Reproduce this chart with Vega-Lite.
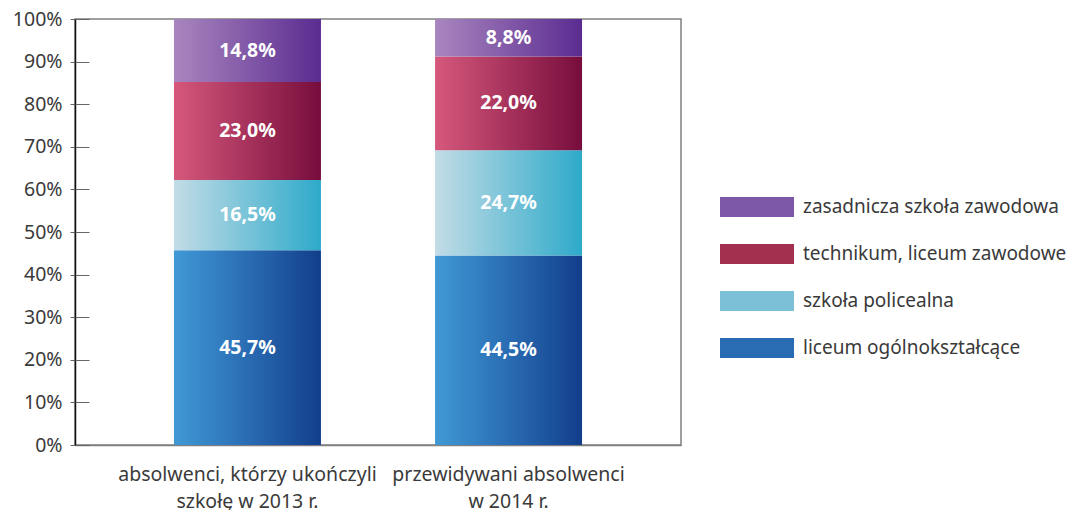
{
  "$schema": "https://vega.github.io/schema/vega-lite/v6.json",
  "width": 606,
  "height": 426,
  "autosize": {"type": "none"},
  "padding": {"left": 75, "top": 19, "right": 385, "bottom": 65},
  "background": "white",
  "config": {
    "locale": {"number": {"decimal": ",", "thousands": " ", "grouping": [3], "currency": ["", " zł"]}},
    "view": {"stroke": "#808080", "strokeWidth": 1.5},
    "font": "Noto Sans"
  },
  "data": {
    "values": [
      {"g": "absolwenci, którzy ukończyli szkołę w 2013 r.", "s": "liceum ogólnokształcące", "o": 1, "v": 0.457},
      {"g": "absolwenci, którzy ukończyli szkołę w 2013 r.", "s": "szkoła policealna", "o": 2, "v": 0.165},
      {"g": "absolwenci, którzy ukończyli szkołę w 2013 r.", "s": "technikum, liceum zawodowe", "o": 3, "v": 0.230},
      {"g": "absolwenci, którzy ukończyli szkołę w 2013 r.", "s": "zasadnicza szkoła zawodowa", "o": 4, "v": 0.148},
      {"g": "przewidywani absolwenci w 2014 r.", "s": "liceum ogólnokształcące", "o": 1, "v": 0.445},
      {"g": "przewidywani absolwenci w 2014 r.", "s": "szkoła policealna", "o": 2, "v": 0.247},
      {"g": "przewidywani absolwenci w 2014 r.", "s": "technikum, liceum zawodowe", "o": 3, "v": 0.220},
      {"g": "przewidywani absolwenci w 2014 r.", "s": "zasadnicza szkoła zawodowa", "o": 4, "v": 0.088}
    ]
  },
  "transform": [
    {"stack": "v", "groupby": ["g"], "sort": [{"field": "o", "order": "ascending"}], "as": ["v0", "v1"]},
    {"calculate": "(datum.v0 + datum.v1) / 2", "as": "mid"}
  ],
  "encoding": {
    "x": {
      "field": "g", "type": "nominal", "sort": null,
      "scale": {"paddingInner": 0.437, "paddingOuter": 0.379},
      "axis": {
        "title": null, "ticks": false, "labelAngle": 0, "labelFontSize": 19.5, "labelColor": "#3a3a3a",
        "labelPadding": 20, "labelLineHeight": 27, "labelLimit": 0, "domainColor": "#808080", "domainWidth": 1.5,
        "labelExpr": "datum.value == 'absolwenci, którzy ukończyli szkołę w 2013 r.' ? ['absolwenci, którzy ukończyli', 'szkołę w 2013 r.'] : ['przewidywani absolwenci', 'w 2014 r.']"
      }
    }
  },
  "layer": [
    {
      "mark": {"type": "bar", "opacity": 0},
      "encoding": {
        "y": {
          "field": "v0", "type": "quantitative", "scale": {"domain": [0, 1]},
          "axis": {
            "orient": "left", "title": null, "grid": false, "format": ".0%",
            "values": [0, 0.1, 0.2, 0.3, 0.4, 0.5, 0.6, 0.7, 0.8, 0.9, 1],
            "tickSize": 5, "tickColor": "#666666", "domainColor": "#111111", "domainWidth": 1.5,
            "labelFontSize": 19.5, "labelColor": "#3a3a3a", "labelPadding": 8
          }
        },
        "y2": {"field": "v1"},
        "color": {
          "field": "s", "type": "nominal",
          "scale": {
            "domain": ["zasadnicza szkoła zawodowa", "technikum, liceum zawodowe", "szkoła policealna", "liceum ogólnokształcące"],
            "range": ["#7d57a8", "#a3304f", "#7cc0d8", "#2a6cb3"]
          },
          "legend": {
            "orient": "none", "legendX": 645, "legendY": 151, "title": null, "padding": 0,
            "symbolType": "M-1,-0.27H1V0.27H-1Z", "symbolSize": 5476, "symbolStrokeWidth": 0, "symbolOpacity": 1,
            "labelFontSize": 19, "labelColor": "#3a3a3a", "labelOffset": 9, "rowPadding": 0, "labelLimit": 0
          }
        }
      }
    },
    {
      "transform": [{"filter": "datum.o == 1"}],
      "mark": {"type": "bar", "fill": {"gradient": "linear", "x1": 0, "y1": 0, "x2": 1, "y2": 0, "stops": [{"offset": 0, "color": "#4099d5"}, {"offset": 0.5, "color": "#2a6cb3"}, {"offset": 1, "color": "#123e8b"}]}},
      "encoding": {"y": {"field": "v0", "type": "quantitative", "axis": null}, "y2": {"field": "v1"}}
    },
    {
      "transform": [{"filter": "datum.o == 2"}],
      "mark": {"type": "bar", "fill": {"gradient": "linear", "x1": 0, "y1": 0, "x2": 1, "y2": 0, "stops": [{"offset": 0, "color": "#c2dce6"}, {"offset": 1, "color": "#2eaaca"}]}},
      "encoding": {"y": {"field": "v0", "type": "quantitative", "axis": null}, "y2": {"field": "v1"}}
    },
    {
      "transform": [{"filter": "datum.o == 3"}],
      "mark": {"type": "bar", "fill": {"gradient": "linear", "x1": 0, "y1": 0, "x2": 1, "y2": 0, "stops": [{"offset": 0, "color": "#d6587c"}, {"offset": 1, "color": "#770d3c"}]}},
      "encoding": {"y": {"field": "v0", "type": "quantitative", "axis": null}, "y2": {"field": "v1"}}
    },
    {
      "transform": [{"filter": "datum.o == 4"}],
      "mark": {"type": "bar", "fill": {"gradient": "linear", "x1": 0, "y1": 0, "x2": 1, "y2": 0, "stops": [{"offset": 0, "color": "#a986be"}, {"offset": 1, "color": "#5a2c91"}]}},
      "encoding": {"y": {"field": "v0", "type": "quantitative", "axis": null}, "y2": {"field": "v1"}}
    },
    {
      "mark": {"type": "text", "color": "white", "fontWeight": "bold", "fontSize": 19.5, "baseline": "middle", "align": "center"},
      "encoding": {
        "y": {
          "field": "mid", "type": "quantitative",
          "axis": {
            "orient": "left", "title": null, "grid": false, "labels": false, "domain": false,
            "values": [0, 0.1, 0.2, 0.3, 0.4, 0.5, 0.6, 0.7, 0.8, 0.9, 1],
            "tickSize": -14, "tickColor": "#666666"
          }
        },
        "text": {"field": "v", "type": "quantitative", "format": ".1%"}
      }
    }
  ],
  "resolve": {"axis": {"y": "independent"}}
}
